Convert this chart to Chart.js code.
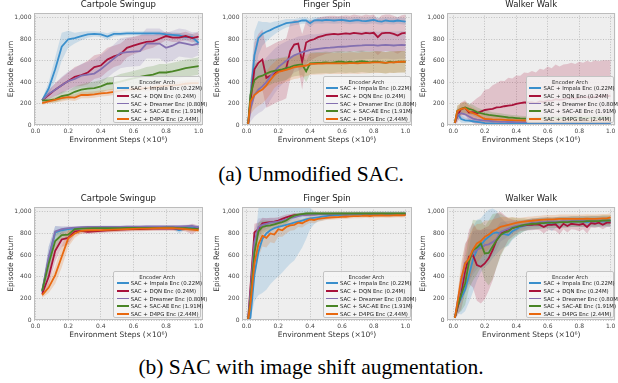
<!DOCTYPE html>
<html><head><meta charset="utf-8">
<script src="https://cdn.jsdelivr.net/npm/chart.js@4"></script>
<style>
body{margin:0;background:#fff;width:618px;height:383px;overflow:hidden;position:relative;font-family:"DejaVu Sans",sans-serif;}
canvas{position:absolute;}
.leg{position:absolute;box-sizing:border-box;width:88px;height:47px;border:0.8px solid #c4c4c4;background:rgba(244,244,244,0.85);border-radius:2px;color:#222;font-size:5.4px;}
.leg .t{position:absolute;left:0;right:0;text-align:center;height:6px;line-height:6px;color:#333;}
.leg .r{position:absolute;left:16.5px;height:6px;line-height:6px;white-space:nowrap;}
.leg .h{position:absolute;left:2.5px;width:12px;height:1.8px;}
.cap{position:absolute;left:0;width:622px;text-align:center;font-family:"Liberation Serif",serif;font-size:21.5px;height:24px;line-height:24px;color:#000;}
</style></head>
<body>
<div class="cap" style="top:162.4px">(a) Unmodified SAC.</div>
<div class="cap" style="top:355px">(b) SAC with image shift augmentation.</div>
<script>
const seriesNames=['SAC + Impala Enc (0.22M)','SAC + DQN Enc (0.24M)','SAC + Dreamer Enc (0.80M)','SAC + SAC-AE Enc (1.91M)','SAC + D4PG Enc (2.44M)'];
const seriesColors=['#3a8fcc','#a8123a','#8470b0','#4a8526','#e8680f'];
const legendTitle='Encoder Arch';
const xTicks=[0,0.2,0.4,0.6,0.8,1.0];
const yTicks=[0,200,400,600,800,1000];
const xAxisLabel='Environment Steps (×10⁶)';
const yAxisLabel='Episode Return';

const stepsCartpole=[0.04,0.08,0.12,0.16,0.2,0.24,0.28,0.32,0.36,0.4,0.44,0.48,0.52,0.56,0.6,0.64,0.68,0.72,0.76,0.8,0.84,0.88,0.92,0.96,1.0];
const stepsDense=[0.01,0.025,0.05,0.075,0.1,0.125,0.15,0.175,0.2,0.225,0.25,0.275,0.3,0.325,0.35,0.375,0.4,0.425,0.45,0.475,0.5,0.525,0.55,0.575,0.6,0.625,0.65,0.675,0.7,0.725,0.75,0.775,0.8,0.825,0.85,0.875,0.9,0.925,0.95,0.975,1.0];

// ---- (a) Cartpole Swingup ----
const cartA_impala=[230,340,520,730,800,810,830,845,850,845,825,850,850,855,855,855,855,855,855,845,840,835,820,820,765];
const cartA_impalaSd=[15,60,110,130,80,50,40,30,25,25,30,25,20,20,20,20,20,20,20,20,25,25,30,30,40];
const cartA_dqn=[230,280,330,370,410,450,465,490,540,555,610,640,660,720,740,760,775,780,805,830,815,815,830,810,825];
const cartA_dqnSd=[15,40,60,70,80,90,100,110,110,110,110,100,100,90,80,80,70,60,50,40,40,40,40,40,40];
const cartA_dreamer=[230,290,330,370,410,430,460,470,480,520,570,620,670,680,685,690,760,760,760,720,740,770,760,745,760];
const cartA_dreamerSd=[15,40,60,80,90,100,110,120,130,130,130,130,140,140,140,140,140,140,140,140,140,130,130,120,110];
const cartA_sacae=[230,230,240,270,280,310,330,340,345,360,385,390,405,420,435,450,460,470,490,490,500,515,530,540,550];
const cartA_sacaeSd=[15,20,30,40,40,50,50,55,60,60,60,60,70,70,70,70,80,80,80,80,80,80,80,80,80];
const cartA_d4pg=[205,220,235,250,260,255,280,280,285,295,300,310,320,330,335,340,345,350,360,365,370,375,385,390,390];
const cartA_d4pgSd=[15,20,25,30,30,30,30,30,30,30,30,30,30,30,30,30,30,30,30,30,30,30,30,30,30];

// ---- (a) Finger Spin ----
const fingA_impala=[0,250,650,810,850,870,885,905,920,935,950,955,960,965,975,975,950,975,978,975,980,978,975,978,980,975,970,975,978,972,970,975,980,970,965,975,970,968,975,970,965];
const fingA_impalaSd=[0,150,220,160,110,90,70,60,50,45,40,35,30,30,30,30,40,30,30,30,30,30,30,30,30,30,30,30,30,30,30,30,30,30,30,30,30,30,30,30,30];
const fingA_dqn=[0,220,520,580,610,440,460,480,500,510,530,690,750,760,590,770,790,800,820,830,840,845,850,845,850,855,850,860,855,850,860,855,860,820,855,860,860,850,835,855,860];
const fingA_dqnSd=[0,150,250,270,280,280,280,280,280,280,280,260,230,220,260,200,190,180,180,180,175,175,170,170,170,170,170,170,170,170,170,170,170,170,170,170,170,170,170,170,170];
const fingA_dreamer=[0,150,280,330,360,400,450,500,540,570,600,625,650,665,680,690,700,705,710,715,720,722,725,728,730,732,735,738,740,742,745,745,745,740,745,748,745,742,745,748,745];
const fingA_dreamerSd=[0,120,200,220,230,230,220,210,200,190,180,170,160,160,150,150,150,140,140,140,140,140,130,130,130,130,130,130,130,130,130,130,130,130,130,130,130,130,130,130,130];
const fingA_sacae=[0,280,420,450,460,480,495,505,512,520,530,540,555,560,565,500,575,578,580,582,585,580,585,590,590,585,590,585,590,595,590,585,590,590,585,580,590,585,590,590,590];
const fingA_sacaeSd=[0,150,150,140,130,120,120,110,110,110,110,100,100,100,100,100,100,100,100,100,100,100,100,100,100,100,100,100,100,100,100,100,100,100,100,100,100,100,100,100,100];
const fingA_d4pg=[0,220,280,310,330,370,420,465,495,505,515,525,540,545,550,555,570,570,572,572,575,575,575,575,575,575,578,578,575,580,580,582,585,585,585,580,585,585,588,590,590];
const fingA_d4pgSd=[0,120,130,130,130,130,130,120,120,120,110,110,110,110,100,100,100,100,100,100,100,100,100,100,100,100,100,100,100,100,100,100,100,100,100,100,100,100,100,100,100];

// ---- (a) Walker Walk ----
const walkA_impala=[20,110,55,43,40,35,30,25,18,16,15,13,12,10,10,10,10,10,10,10,10,10,10,10,10,10,10,10,10,10,10,10,10,10,10,10,10,10,10,10,10];
const walkA_impalaSd=[10,50,35,25,20,15,12,10,8,8,6,5,5,5,5,5,5,5,5,5,5,5,5,5,5,5,5,5,5,5,5,5,5,5,5,5,5,5,5,5,5];
const walkA_dqn=[20,80,150,160,117,120,110,125,140,145,150,165,167,175,180,185,197,205,210,210,210,205,220,215,230,225,240,235,240,250,250,245,255,260,260,255,265,270,265,275,270];
const walkA_dqnSd=[10,60,60,70,70,100,140,150,190,190,220,225,245,235,260,250,265,255,280,275,295,285,305,300,315,305,325,310,325,320,330,325,335,320,340,330,340,325,340,330,335];
const walkA_dreamer=[20,90,110,100,80,60,50,45,40,38,35,32,30,30,28,28,27,27,26,26,25,25,25,25,25,25,25,25,25,25,25,25,25,25,25,25,25,25,25,25,25];
const walkA_dreamerSd=[10,40,50,50,45,40,30,25,20,20,18,15,15,15,15,15,15,15,15,15,15,15,15,15,15,15,15,15,15,15,15,15,15,15,15,15,15,15,15,15,15];
const walkA_sacae=[20,130,150,164,150,140,120,110,102,95,90,85,80,75,70,68,65,62,60,60,60,62,62,63,63,64,64,65,65,65,65,66,66,66,67,67,67,68,68,68,68];
const walkA_sacaeSd=[10,50,50,50,50,50,45,40,35,35,30,30,30,28,28,25,25,25,25,25,25,25,25,25,25,25,25,25,25,25,25,25,25,25,25,25,25,25,25,25,25];
const walkA_d4pg=[20,130,150,157,127,110,96,75,56,54,52,51,50,48,45,45,43,43,42,42,40,40,40,40,40,40,40,40,40,40,40,40,40,40,40,40,40,40,40,40,40];
const walkA_d4pgSd=[10,50,60,60,55,50,45,40,35,30,30,30,28,25,25,25,25,25,25,25,25,25,25,25,25,25,25,25,25,25,25,25,25,25,25,25,25,25,25,25,25];

// ---- (b) Cartpole Swingup ----
const cartB_impala=[260,560,810,830,840,845,850,852,855,855,855,855,855,855,855,855,855,855,855,855,855,830,850,855,860];
const cartB_impalaSd=[30,120,60,30,20,15,15,12,12,12,12,12,12,12,12,12,12,12,12,12,15,30,15,15,15];
const cartB_dqn=[240,400,640,745,760,820,825,815,820,825,830,832,835,838,840,840,842,845,845,845,845,845,845,840,855];
const cartB_dqnSd=[25,80,100,70,60,30,25,20,20,20,20,20,20,20,20,20,20,20,20,20,20,20,25,50,20];
const cartB_dreamer=[270,580,820,840,850,855,858,860,860,862,862,862,862,864,864,864,865,865,865,865,866,866,868,870,855];
const cartB_dreamerSd=[30,100,50,30,20,15,12,12,12,12,12,12,12,12,12,12,12,12,12,12,12,12,12,15,15];
const cartB_sacae=[270,520,730,785,790,840,845,848,850,850,850,850,850,852,852,852,852,852,852,855,855,850,850,845,840];
const cartB_sacaeSd=[30,100,80,50,40,20,15,15,15,15,15,15,15,15,15,15,15,15,15,15,15,15,15,20,20];
const cartB_d4pg=[230,300,415,585,755,800,825,830,830,832,833,835,838,840,842,845,845,848,850,850,850,845,840,835,830];
const cartB_d4pgSd=[25,50,80,100,80,40,25,20,20,20,20,20,20,20,20,20,20,20,20,20,20,20,20,20,20];

// ---- (b) Finger Spin ----
const fingB_impala=[0,20,420,630,750,800,830,850,862,870,880,890,900,910,920,930,940,945,950,955,960,965,968,970,972,975,975,975,978,978,978,980,980,980,980,980,980,980,980,980,980];
const fingB_impalaSd=[0,30,250,400,500,520,500,480,460,430,400,370,350,300,250,180,100,60,40,35,30,25,20,20,20,20,20,20,20,20,20,20,20,20,20,20,20,20,20,20,20];
const fingB_dqn=[0,300,810,840,895,900,905,910,920,935,950,960,970,972,975,975,978,978,980,980,980,978,980,982,980,978,980,980,982,980,980,978,980,980,982,980,978,980,980,982,980];
const fingB_dqnSd=[0,100,80,60,50,40,40,35,30,30,25,20,20,15,15,15,15,15,15,15,15,15,15,15,15,15,15,15,15,15,15,15,15,15,15,15,15,15,15,15,15];
const fingB_dreamer=[0,250,720,860,880,890,900,905,910,920,930,945,950,960,970,975,975,978,980,980,980,980,980,980,980,980,980,980,980,980,980,980,980,980,980,980,980,980,980,980,980];
const fingB_dreamerSd=[0,100,120,80,60,50,40,35,30,30,30,25,20,20,20,20,20,20,20,20,20,20,20,20,20,20,20,20,20,20,20,20,20,20,20,20,20,20,20,20,20];
const fingB_sacae=[0,180,620,820,860,870,875,885,895,905,920,945,965,975,980,985,985,985,985,985,985,985,985,985,985,985,985,985,985,985,985,985,985,985,985,985,985,985,985,985,985];
const fingB_sacaeSd=[0,100,120,80,60,50,40,35,30,30,30,25,20,15,15,15,15,15,15,15,15,15,15,15,15,15,15,15,15,15,15,15,15,15,15,15,15,15,15,15,15];
const fingB_d4pg=[0,150,520,700,780,760,800,790,840,830,860,875,880,900,895,915,930,925,935,940,945,948,950,952,955,955,958,960,960,962,965,962,965,965,968,965,965,968,970,968,970];
const fingB_d4pgSd=[0,80,150,120,100,90,80,80,70,60,60,50,50,40,40,35,30,30,25,25,20,20,20,20,20,20,20,20,20,20,20,20,20,20,20,20,20,20,20,20,20];

// ---- (b) Walker Walk ----
const walkB_impala=[20,120,200,280,415,560,646,690,738,770,800,810,800,795,785,820,840,860,870,880,885,890,895,900,900,880,900,905,905,905,910,910,910,910,905,910,910,910,910,910,910];
const walkB_impalaSd=[10,60,150,200,250,300,280,250,250,250,230,200,150,120,100,80,70,60,50,50,50,50,50,50,50,60,50,50,50,50,50,50,50,50,50,50,50,50,50,50,50];
const walkB_dqn=[20,100,250,450,585,600,508,492,523,570,646,738,800,820,840,850,860,870,875,880,880,885,880,860,880,880,885,850,890,870,890,885,880,890,860,895,890,900,880,900,900];
const walkB_dqnSd=[10,60,150,200,250,300,330,340,330,300,280,250,200,150,100,80,60,50,50,50,50,50,50,60,50,50,60,60,50,60,50,50,60,50,60,40,40,40,40,40,40];
const walkB_dreamer=[20,150,330,530,554,620,650,665,692,700,720,750,815,830,845,860,870,875,880,890,900,900,905,905,910,910,910,912,915,915,915,918,918,920,920,920,920,920,920,920,920];
const walkB_dreamerSd=[10,60,150,180,200,200,180,160,150,140,120,100,90,80,70,60,50,40,40,40,40,40,40,40,40,40,40,40,40,40,40,40,40,40,40,40,40,40,40,40,40];
const walkB_sacae=[20,120,231,338,538,646,670,708,615,620,680,738,785,810,820,850,860,870,880,885,890,890,895,895,900,900,900,905,905,905,910,910,910,910,915,915,915,915,920,920,920];
const walkB_sacaeSd=[10,60,150,200,250,280,250,220,250,300,300,250,200,150,120,100,80,70,60,50,50,50,50,50,50,50,50,50,50,50,50,50,50,50,50,50,50,50,50,50,50];
const walkB_d4pg=[20,150,380,520,569,650,708,730,769,790,820,840,862,870,880,890,898,905,910,915,918,922,925,928,930,930,932,935,935,935,935,935,935,935,938,935,935,938,940,940,948];
const walkB_d4pgSd=[10,60,150,180,200,200,180,160,150,130,110,100,90,80,70,60,50,40,40,40,40,40,40,40,40,40,40,40,40,40,40,40,40,40,40,40,40,40,40,40,40];

function rgba(hex,a){const n=parseInt(hex.slice(1),16);return 'rgba('+(n>>16)+','+((n>>8)&255)+','+(n&255)+','+a+')';}

const bgPlugin={id:'bgPlot',
  beforeDraw(chart){const {ctx,chartArea:a}=chart;ctx.save();ctx.fillStyle='#eeeeee';ctx.fillRect(a.left,a.top,a.width,a.height);ctx.restore();},
  afterDatasetsDraw(chart){const {ctx,chartArea:a}=chart;ctx.save();ctx.strokeStyle='#bcbcbc';ctx.lineWidth=1;ctx.strokeRect(Math.round(a.left)+0.5,Math.round(a.top)+0.5,Math.round(a.width)-1,Math.round(a.height)-1);ctx.restore();}
};

function panel(cfg){
  const cv=document.createElement('canvas');
  cv.width=cfg.w;cv.height=cfg.h;
  cv.style.left=cfg.left+'px';cv.style.top=cfg.top+'px';
  cv.style.width=cfg.w+'px';cv.style.height=cfg.h+'px';
  document.body.appendChild(cv);
  const datasets=[];
  cfg.means.forEach((m,i)=>{
    const sd=cfg.sds[i];
    datasets.push({data:cfg.xs.map((x,k)=>({x:x,y:Math.max(0,m[k]-sd[k])})),borderWidth:0,pointRadius:0,fill:false,order:100-i});
    datasets.push({data:cfg.xs.map((x,k)=>({x:x,y:m[k]+sd[k]})),borderWidth:0,pointRadius:0,fill:'-1',backgroundColor:rgba(seriesColors[i],0.2),order:100-i});
    datasets.push({label:seriesNames[i],data:cfg.xs.map((x,k)=>({x:x,y:m[k]})),borderColor:seriesColors[i],borderWidth:1.8,pointRadius:0,fill:false,tension:0,order:10-i});
  });
  const font=(s)=>({family:'DejaVu Sans',size:s,weight:'normal'});
  const chart=new Chart(cv,{type:'line',data:{datasets:datasets},plugins:[bgPlugin],
    options:{responsive:false,animation:false,events:[],devicePixelRatio:1,
      layout:{padding:{left:0,right:cfg.padR,top:0,bottom:0},autoPadding:false},
      plugins:{legend:{display:false},tooltip:{enabled:false},
        title:{display:true,text:cfg.title,fullSize:false,color:'#1a1a1a',font:Object.assign(font(8.5),{lineHeight:1}),padding:{top:0.75,bottom:3.75}}},
      scales:{
        x:{type:'linear',min:cfg.xmin,max:cfg.xmax,
          afterFit(s){s.height=20;},
          afterBuildTicks(s){s.ticks=xTicks.map(v=>({value:v}));},
          ticks:{font:font(6),color:'#444',padding:2.5,maxRotation:0,autoSkip:false,callback:v=>Number(v).toFixed(1)},
          grid:{color:'#b4b4b4',lineWidth:0.8,drawTicks:false},
          border:{display:false,dash:[1,1.6]},
          title:{display:true,text:xAxisLabel,font:font(7.5),color:'#333',padding:{top:0,bottom:0.5}}},
        y:{type:'linear',min:0,max:1045,
          afterFit(s){s.width=cfg.yW;},
          afterBuildTicks(s){s.ticks=yTicks.map(v=>({value:v}));},
          ticks:{font:font(6),color:'#444',padding:2.5,autoSkip:false},
          grid:{color:'#b4b4b4',lineWidth:0.8,drawTicks:false},
          border:{display:false,dash:[1,1.6]},
          title:{display:true,text:yAxisLabel,font:font(7.5),color:'#333',padding:{top:cfg.yTitlePad,bottom:0}}}
      }}});
  const a=chart.chartArea;
  const box=document.createElement('div');box.className='leg';
  box.style.left=(cfg.left+a.right-1.5-88)+'px';
  box.style.top=(cfg.top+a.bottom-2.5-47)+'px';
  const t=document.createElement('div');t.className='t';t.style.top='2px';t.textContent=legendTitle;box.appendChild(t);
  seriesNames.forEach((n,i)=>{
    const c=11.7+7.67*i;
    const h=document.createElement('div');h.className='h';h.style.top=(c-0.9)+'px';h.style.background=seriesColors[i];box.appendChild(h);
    const r=document.createElement('div');r.className='r';r.style.top=(c-3)+'px';r.textContent=n;box.appendChild(r);
  });
  document.body.appendChild(box);
  return chart;
}

const cols=[{left:0,w:206,padR:3,yW:34,yTitlePad:6.5},{left:205,w:210,padR:3,yW:37,yTitlePad:7.2},{left:412,w:206,padR:1,yW:35,yTitlePad:6.5}];
const rows=[{top:0,h:145},{top:194,h:146}];

panel(Object.assign({},cols[0],rows[0],{title:'Cartpole Swingup',xs:stepsCartpole,xmin:-0.01,xmax:1.025,
  means:[cartA_impala,cartA_dqn,cartA_dreamer,cartA_sacae,cartA_d4pg],sds:[cartA_impalaSd,cartA_dqnSd,cartA_dreamerSd,cartA_sacaeSd,cartA_d4pgSd]}));
panel(Object.assign({},cols[1],rows[0],{title:'Finger Spin',xs:stepsDense,xmin:-0.028,xmax:1.04,
  means:[fingA_impala,fingA_dqn,fingA_dreamer,fingA_sacae,fingA_d4pg],sds:[fingA_impalaSd,fingA_dqnSd,fingA_dreamerSd,fingA_sacaeSd,fingA_d4pgSd]}));
panel(Object.assign({},cols[2],rows[0],{title:'Walker Walk',xs:stepsDense,xmin:-0.04,xmax:1.03,
  means:[walkA_impala,walkA_dqn,walkA_dreamer,walkA_sacae,walkA_d4pg],sds:[walkA_impalaSd,walkA_dqnSd,walkA_dreamerSd,walkA_sacaeSd,walkA_d4pgSd]}));
panel(Object.assign({},cols[0],rows[1],{title:'Cartpole Swingup',xs:stepsCartpole,xmin:-0.01,xmax:1.025,
  means:[cartB_impala,cartB_dqn,cartB_dreamer,cartB_sacae,cartB_d4pg],sds:[cartB_impalaSd,cartB_dqnSd,cartB_dreamerSd,cartB_sacaeSd,cartB_d4pgSd]}));
panel(Object.assign({},cols[1],rows[1],{title:'Finger Spin',xs:stepsDense,xmin:-0.028,xmax:1.04,
  means:[fingB_impala,fingB_dqn,fingB_dreamer,fingB_sacae,fingB_d4pg],sds:[fingB_impalaSd,fingB_dqnSd,fingB_dreamerSd,fingB_sacaeSd,fingB_d4pgSd]}));
panel(Object.assign({},cols[2],rows[1],{title:'Walker Walk',xs:stepsDense,xmin:-0.04,xmax:1.03,
  means:[walkB_impala,walkB_dqn,walkB_dreamer,walkB_sacae,walkB_d4pg],sds:[walkB_impalaSd,walkB_dqnSd,walkB_dreamerSd,walkB_sacaeSd,walkB_d4pgSd]}));
</script>
</body></html>
